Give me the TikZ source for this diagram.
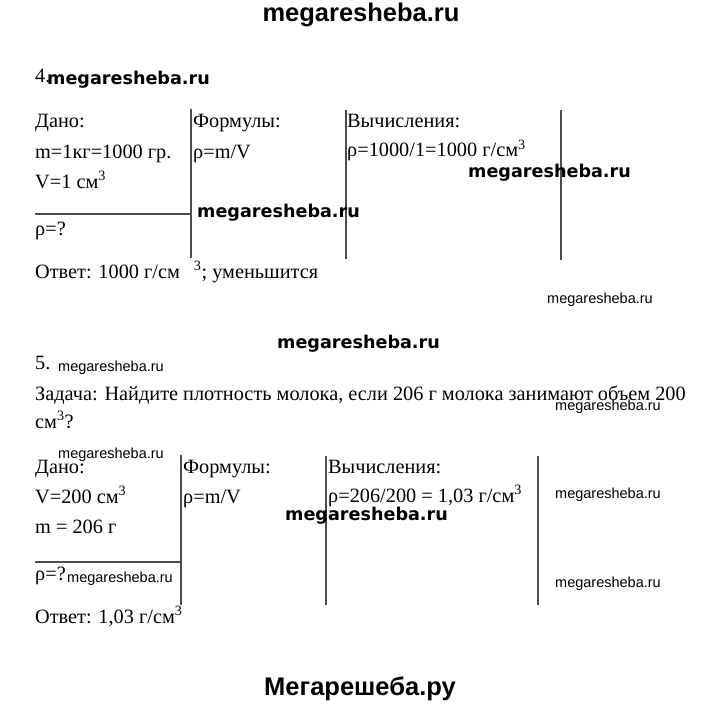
\documentclass[tikz,border=0pt]{standalone}
\usepackage{fontspec}
\setmainfont{Liberation Serif}
\newfontfamily\sitefont{Liberation Sans}
\newfontfamily\markfont{DejaVu Sans}
\begin{document}
\begin{tikzpicture}[x=1pt, y=-1pt,
    txt/.style={anchor=base west, inner sep=0pt, font=\fontsize{20.3}{23}\selectfont},
    bigmark/.style={anchor=base, inner sep=0pt, font=\sitefont\bfseries\fontsize{25.5}{28}\selectfont},
    boldmark/.style={anchor=base west, inner sep=0pt, font=\markfont\bfseries\fontsize{17.6}{20}\selectfont},
    smallmark/.style={anchor=base west, inner sep=0pt, font=\sitefont\fontsize{14.5}{16}\selectfont},
    rule/.style={draw=black!70, line width=1.2pt}]
    \useasboundingbox (0, 0) rectangle (720, 706);
    % site names
    \node[bigmark] (top) at (361, 22) {megaresheba.ru};
    \node[bigmark] (bottom) at (360, 695) {Мегарешеба.ру};
    % task 4
    \node[txt] (n4) at (35, 83) {4.};
    \node[boldmark] (m4) at (47, 85) {megaresheba.ru};
    \draw[rule] (191, 109) -- (191, 258);
    \draw[rule] (346, 110) -- (346, 259);
    \draw[rule] (561, 110) -- (561, 260);
    \draw[rule] (35, 214) -- (191, 214);
    \node[txt] (dano4) at (35, 128) {Дано:};
    \node[txt] (mass4) at (35, 158) {m=1кг=1000 гр.};
    \node[txt] (vol4) at (35, 188) {V=1 см\textsuperscript{3}};
    \node[txt] (find4) at (35, 235) {ρ=?};
    \node[txt] (ans4) at (35, 278) {Ответ: 1000 г/см\hspace{14pt}\textsuperscript{3}; уменьшится};
    \node[txt] (form4) at (193, 128) {Формулы:};
    \node[txt] (rho4) at (193, 158) {ρ=m/V};
    \node[txt] (calc4) at (347, 128) {Вычисления:};
    \node[txt] (res4) at (347, 157) {ρ=1000/1=1000 г/см\textsuperscript{3}};
    \node[boldmark] (m4b) at (468, 177) {megaresheba.ru};
    \node[boldmark] (m4c) at (197, 217) {megaresheba.ru};
    \node[smallmark] (m4d) at (547, 303) {megaresheba.ru};
    % task 5
    \node[boldmark] (m5) at (277, 348) {megaresheba.ru};
    \node[txt] (n5) at (35, 369) {5.};
    \node[smallmark] (m5a) at (58, 371) {megaresheba.ru};
    \node[txt] (task5) at (35, 400) {Задача: Найдите плотность молока, если 206 г молока занимают объем 200};
    \node[txt] (task5b) at (35, 428) {см\textsuperscript{3}?};
    \node[smallmark] (m5b) at (555, 410) {megaresheba.ru};
    \node[smallmark] (m5c) at (58, 458) {megaresheba.ru};
    \draw[rule] (181, 455) -- (181, 605);
    \draw[rule] (326, 456) -- (326, 605);
    \draw[rule] (538, 456) -- (538, 605);
    \draw[rule] (35, 562) -- (181, 562);
    \node[txt] (dano5) at (35, 473) {Дано:};
    \node[txt] (vol5) at (35, 503) {V=200 см\textsuperscript{3}};
    \node[txt] (mass5) at (35, 533) {m = 206 г};
    \node[txt] (find5) at (35, 580) {ρ=?};
    \node[smallmark] (m5d) at (67, 582) {megaresheba.ru};
    \node[txt] (ans5) at (35, 623) {Ответ: 1,03 г/см\textsuperscript{3}};
    \node[txt] (form5) at (183, 473) {Формулы:};
    \node[txt] (rho5) at (183, 503) {ρ=m/V};
    \node[txt] (calc5) at (328, 473) {Вычисления:};
    \node[txt] (res5) at (328, 502) {ρ=206/200 = 1,03 г/см\textsuperscript{3}};
    \node[boldmark] (m5e) at (285, 520) {megaresheba.ru};
    \node[smallmark] (m5f) at (555, 498) {megaresheba.ru};
    \node[smallmark] (m5g) at (555, 587) {megaresheba.ru};
\end{tikzpicture}
\end{document}
